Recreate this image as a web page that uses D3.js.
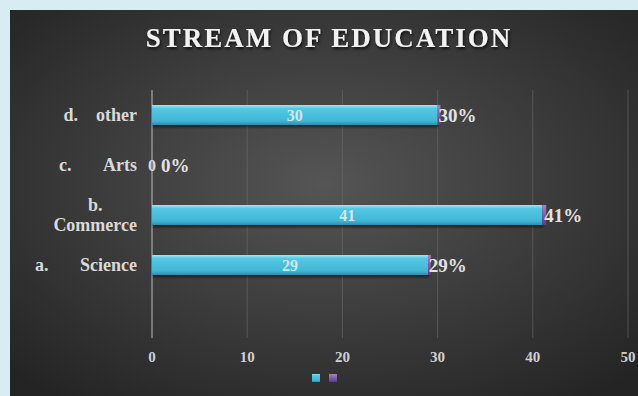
<!DOCTYPE html>
<html>
<head>
<meta charset="utf-8">
<script src="https://cdn.jsdelivr.net/npm/d3@7"></script>
<style>
  html, body { margin: 0; padding: 0; background: #d8ecf3; }
  svg { display: block; }
  text { font-family: "Liberation Serif", "Times New Roman", serif; font-weight: bold; }
</style>
</head>
<body>
<svg id="chart"></svg>
<script>
// chart data
const categories = ['a.\u00a0\u00a0\u00a0\u00a0\u00a0\u00a0\u00a0Science', 'b.\nCommerce', 'c.\u00a0\u00a0\u00a0\u00a0\u00a0\u00a0\u00a0Arts', 'd.\u00a0\u00a0\u00a0\u00a0other'];
const counts = [29, 41, 0, 30];
const percents = [0.29, 0.41, 0, 0.30];
const percentLabels = ['29%', '41%', '0%', '30%'];
const xTicks = [0, 10, 20, 30, 40, 50];

const width = 638, height = 396;

const svg = d3.select('#chart')
    .attr('width', width)
    .attr('height', height);

const defs = svg.append('defs');

// panel background gradient
const bg = defs.append('radialGradient')
    .attr('id', 'bg')
    .attr('cx', '50%').attr('cy', '45%').attr('r', '70%');
bg.append('stop').attr('offset', '0%').attr('stop-color', '#555555');
bg.append('stop').attr('offset', '100%').attr('stop-color', '#242424');

// bar gradients (bevel look)
const cyan = defs.append('linearGradient')
    .attr('id', 'cyan').attr('x1', 0).attr('y1', 0).attr('x2', 0).attr('y2', 1);
cyan.append('stop').attr('offset', '0%').attr('stop-color', '#9fe6f5');
cyan.append('stop').attr('offset', '18%').attr('stop-color', '#55c8e4');
cyan.append('stop').attr('offset', '80%').attr('stop-color', '#40b6d6');
cyan.append('stop').attr('offset', '100%').attr('stop-color', '#2a8eaa');

const purple = defs.append('linearGradient')
    .attr('id', 'purple').attr('x1', 0).attr('y1', 0).attr('x2', 0).attr('y2', 1);
purple.append('stop').attr('offset', '0%').attr('stop-color', '#a383c8');
purple.append('stop').attr('offset', '100%').attr('stop-color', '#5e3a88');

const shadow = defs.append('filter').attr('id', 'shadow')
    .attr('x', '-10%').attr('y', '-30%').attr('width', '120%').attr('height', '180%');
shadow.append('feDropShadow')
    .attr('dx', 1).attr('dy', 2).attr('stdDeviation', 1.5)
    .attr('flood-color', '#000').attr('flood-opacity', 0.6);

const titleShadow = defs.append('filter').attr('id', 'tshadow');
titleShadow.append('feDropShadow')
    .attr('dx', 1).attr('dy', 2).attr('stdDeviation', 1.5)
    .attr('flood-color', '#000').attr('flood-opacity', 0.8);

svg.append('rect')
    .attr('x', 10).attr('y', 10)
    .attr('width', width - 10).attr('height', height - 10)
    .attr('fill', 'url(#bg)');

// title
svg.append('text')
    .attr('x', 329).attr('y', 47)
    .attr('text-anchor', 'middle')
    .attr('font-size', 27)
    .attr('letter-spacing', 2)
    .attr('fill', '#f2f2f2')
    .attr('filter', 'url(#tshadow)')
    .text('STREAM OF EDUCATION');

// scales
const xScale = d3.scaleLinear()
    .domain([0, 50])
    .range([152, 628]);

const yScale = d3.scaleBand()
    .domain(categories)
    .range([290, 90])
    .paddingInner(0.6)
    .paddingOuter(0.3);

const plotTop = 90, plotBottom = 338;

// gridlines
svg.append('g')
    .selectAll('line')
    .data(xTicks.slice(1))
    .enter()
    .append('line')
    .attr('x1', d => xScale(d)).attr('x2', d => xScale(d))
    .attr('y1', plotTop).attr('y2', plotBottom)
    .attr('stroke', '#6a6a6a')
    .attr('stroke-opacity', 0.6)
    .attr('stroke-width', 1);

// value axis labels
svg.append('g')
    .selectAll('text')
    .data(xTicks)
    .enter()
    .append('text')
    .attr('x', d => xScale(d))
    .attr('y', 362)
    .attr('text-anchor', 'middle')
    .attr('font-size', 15)
    .attr('fill', '#d0d0d0')
    .text(d => d);

// category axis line
svg.append('line')
    .attr('x1', xScale(0)).attr('x2', xScale(0))
    .attr('y1', plotTop).attr('y2', plotBottom)
    .attr('stroke', '#bdbdbd')
    .attr('stroke-width', 1);

// bars
const rows = categories.map((c, i) => ({ cat: c, count: counts[i], pct: percents[i], label: percentLabels[i] }));
const bh = yScale.bandwidth();

const barGroup = svg.append('g')
    .selectAll('g')
    .data(rows)
    .enter()
    .append('g')
    .attr('transform', d => `translate(0, ${yScale(d.cat)})`);

barGroup.filter(d => d.count > 0)
    .append('rect')
    .attr('x', xScale(0))
    .attr('y', 0)
    .attr('width', d => xScale(d.count) - xScale(0))
    .attr('height', bh)
    .attr('fill', 'url(#cyan)')
    .attr('filter', 'url(#shadow)');

barGroup.filter(d => d.pct > 0)
    .append('rect')
    .attr('x', d => xScale(d.count))
    .attr('y', 0)
    .attr('width', d => xScale(d.count + d.pct) - xScale(d.count))
    .attr('height', bh)
    .attr('fill', 'url(#purple)');

// count labels (centered on bar)
barGroup.append('text')
    .attr('x', d => (xScale(0) + xScale(d.count)) / 2)
    .attr('y', bh / 2)
    .attr('dy', '.35em')
    .attr('text-anchor', 'middle')
    .attr('font-size', 16)
    .attr('fill', d => d.count > 0 ? '#cfe7ee' : '#d9d9d9')
    .text(d => d.count);

// percent labels
barGroup.append('text')
    .attr('x', d => d.count > 0 ? xScale(d.count + d.pct) - 2 : xScale(0) + 9)
    .attr('y', bh / 2)
    .attr('dy', '.36em')
    .attr('font-size', 19)
    .attr('fill', '#e3e3e3')
    .text(d => d.label);

// category labels
const labelX = 137;
const catFont = 18;
const catLabels = svg.append('g')
    .selectAll('text')
    .data(categories)
    .enter()
    .append('text')
    .attr('font-size', catFont)
    .attr('fill', '#d9d9d9')
    .attr('text-anchor', 'end')
    .attr('y', d => yScale(d) + bh / 2);

catLabels.each(function(d) {
    const lines = d.split('\n');
    const t = d3.select(this);
    if (lines.length === 1) {
        t.attr('x', labelX).attr('dy', '.35em').text(d);
    } else {
        t.attr('text-anchor', 'middle');
        // measure longest line to center the block, right aligned at labelX
        const tmp = svg.append('text').attr('font-size', catFont).text(lines[lines.length - 1]);
        const w = tmp.node().getComputedTextLength();
        tmp.remove();
        const cx = labelX - w / 2;
        lines.forEach((ln, j) => {
            t.append('tspan')
                .attr('x', cx)
                .attr('y', yScale(d) + bh / 2 + (j - (lines.length - 1) / 2) * 20)
                .attr('dy', '.35em')
                .text(ln);
        });
    }
});

// legend
const legendColors = ['url(#cyan)', 'url(#purple)'];
svg.append('g')
    .selectAll('rect')
    .data(legendColors)
    .enter()
    .append('rect')
    .attr('x', (d, i) => 312 + i * 17)
    .attr('y', 374)
    .attr('width', 8)
    .attr('height', 8)
    .attr('fill', d => d);
</script>
</body>
</html>
